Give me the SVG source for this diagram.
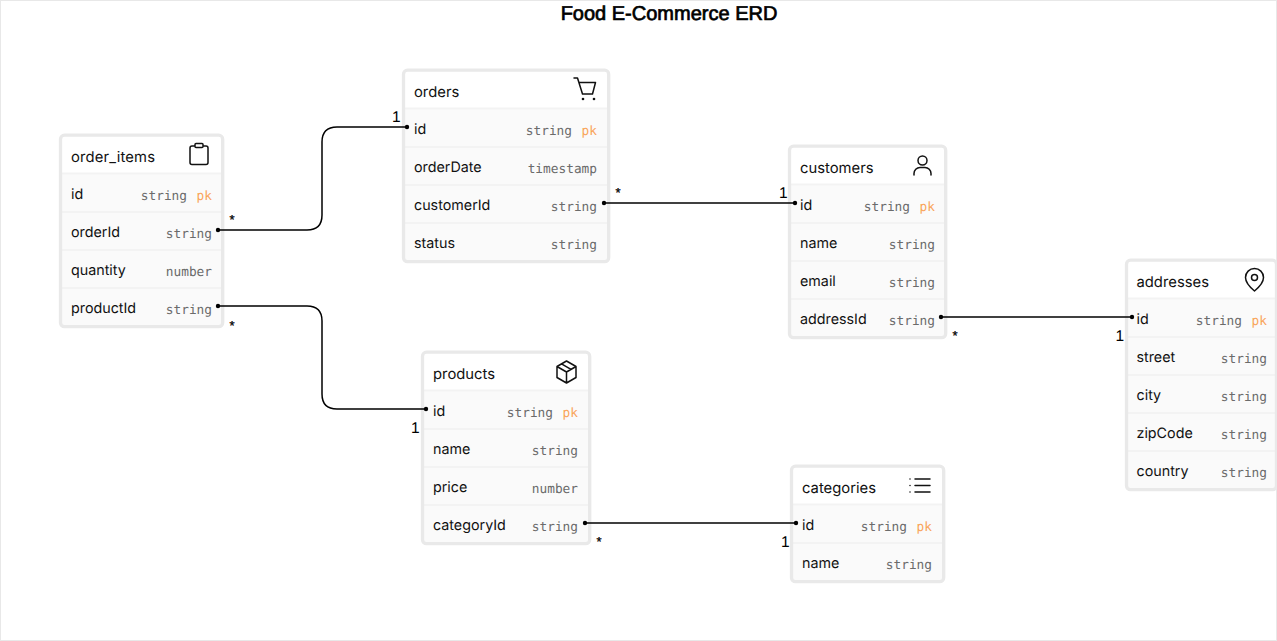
<svg xmlns="http://www.w3.org/2000/svg" width="1277" height="641" viewBox="0 0 1277 641">
<style>
text{text-rendering:geometricPrecision}
.box{fill:#fafafa;stroke:none}
.frame{fill:none;stroke:#e9e9e9;stroke-width:3.300}
.hd{fill:#fff}
.sep{stroke:#f3f3f3;stroke-width:2}
.h{font:14.800px Inter,"Liberation Sans",sans-serif;fill:#111}
.n{font:14.300px Inter,"Liberation Sans",sans-serif;fill:#111;transform:translateY(-1px)}
.t{font:12.800px "DejaVu Sans Mono","Liberation Mono",monospace;fill:#6b6b6b;text-anchor:end}
.pk{font:12.800px "DejaVu Sans Mono","Liberation Mono",monospace;fill:#f9a55a;text-anchor:end}
.ic{fill:none;stroke:#111;stroke-width:1.500;stroke-linecap:round;stroke-linejoin:round}
.c{fill:none;stroke:#000;stroke-width:1.500}
.d{fill:#000}
.l{font:15.500px "Liberation Sans",sans-serif;fill:#000}
.s{font:13px "Liberation Sans",sans-serif;fill:#000;stroke:#000;stroke-width:.3}
</style>
<rect x="0.500" y="0.500" width="1276" height="640" fill="#fff" stroke="#e8e8e8"/>
<text x="669" y="20" text-anchor="middle" style="font:20px 'Liberation Sans',sans-serif;fill:#000;stroke:#000;stroke-width:.7">Food E-Commerce ERD</text>

<g id="order_items">
<rect class="box" x="61" y="136" width="161" height="190" rx="4"/>
<path class="hd" d="M61 174V140a4 4 0 0 1 4-4H218a4 4 0 0 1 4 4V174Z"/>
<path class="sep" d="M61 173.500H222M61 212H222M61 250H222M61 288H222"/>
<rect class="frame" x="60.500" y="135.200" width="162.200" height="191.500" rx="4"/>
<text class="h" x="71" y="162" textLength="84">order_items</text>
<path class="ic" d="M195 146h-3a2 2 0 0 0-2 2v14.500a2 2 0 0 0 2 2h14a2 2 0 0 0 2-2V148a2 2 0 0 0-2-2h-3M195 144.500a1 1 0 0 1 1-1h6a1 1 0 0 1 1 1v2a1 1 0 0 1-1 1h-6a1 1 0 0 1-1-1z"/>
<text class="n" x="71" y="200">id</text><text class="t" x="187" y="200">string</text><text class="pk" x="212" y="200">pk</text>
<text class="n" x="71" y="238">orderId</text><text class="t" x="212" y="238">string</text>
<text class="n" x="71" y="276">quantity</text><text class="t" x="212" y="276">number</text>
<text class="n" x="71" y="314">productId</text><text class="t" x="212" y="314">string</text>
</g>

<g id="orders">
<rect class="box" x="404" y="71" width="204" height="190" rx="4"/>
<path class="hd" d="M404 109V75a4 4 0 0 1 4-4H604a4 4 0 0 1 4 4V109Z"/>
<path class="sep" d="M404 108.500H608M404 147H608M404 185H608M404 223H608"/>
<rect class="frame" x="403.500" y="70.200" width="205.200" height="191.500" rx="4"/>
<text class="h" x="414" y="97">orders</text>
<path class="ic" d="M574 78h3.500l5 16h10l3-11.500H579"/>
<circle cx="583" cy="99" r="1.300" fill="#111"/><circle cx="594" cy="99" r="1.300" fill="#111"/>
<text class="n" x="414" y="135">id</text><text class="t" x="572" y="135">string</text><text class="pk" x="597" y="135">pk</text>
<text class="n" x="414" y="173">orderDate</text><text class="t" x="597" y="173">timestamp</text>
<text class="n" x="414" y="211">customerId</text><text class="t" x="597" y="211">string</text>
<text class="n" x="414" y="249">status</text><text class="t" x="597" y="249">string</text>
</g>

<g id="customers">
<rect class="box" x="790" y="147" width="155" height="190" rx="4"/>
<path class="hd" d="M790 185V151a4 4 0 0 1 4-4H941a4 4 0 0 1 4 4V185Z"/>
<path class="sep" d="M790 184.500H945M790 223H945M790 261H945M790 299H945"/>
<rect class="frame" x="789.500" y="146.200" width="156.200" height="191.500" rx="4"/>
<text class="h" x="800" y="173">customers</text>
<path class="ic" d="M914 175v-1.500a6 6 0 0 1 6-6h5a6 6 0 0 1 6 6V175"/><circle class="ic" cx="922.500" cy="160.500" r="4.500"/>
<text class="n" x="800" y="211">id</text><text class="t" x="910" y="211">string</text><text class="pk" x="935" y="211">pk</text>
<text class="n" x="800" y="249">name</text><text class="t" x="935" y="249">string</text>
<text class="n" x="800" y="287">email</text><text class="t" x="935" y="287">string</text>
<text class="n" x="800" y="325">addressId</text><text class="t" x="935" y="325">string</text>
</g>

<g id="addresses">
<rect class="box" x="1127" y="261" width="150" height="228" rx="4"/>
<path class="hd" d="M1127 299V265a4 4 0 0 1 4-4H1273a4 4 0 0 1 4 4V299Z"/>
<path class="sep" d="M1127 298.500H1277M1127 337H1277M1127 375H1277M1127 413H1277M1127 451H1277"/>
<rect class="frame" x="1126.500" y="260.200" width="150" height="229.500" rx="4"/>
<text class="h" x="1136.500" y="287">addresses</text>
<path class="ic" d="M1254.500 291c-3-2.500-9-8-9-13.500a9 9 0 0 1 18 0c0 5.500-6 11-9 13.500z"/><circle class="ic" cx="1254.500" cy="277.500" r="3"/>
<text class="n" x="1136.500" y="325">id</text><text class="t" x="1242" y="325">string</text><text class="pk" x="1267" y="325">pk</text>
<text class="n" x="1136.500" y="363">street</text><text class="t" x="1267" y="363">string</text>
<text class="n" x="1136.500" y="401">city</text><text class="t" x="1267" y="401">string</text>
<text class="n" x="1136.500" y="439">zipCode</text><text class="t" x="1267" y="439">string</text>
<text class="n" x="1136.500" y="477">country</text><text class="t" x="1267" y="477">string</text>
</g>

<g id="products">
<rect class="box" x="423" y="353" width="166" height="190" rx="4"/>
<path class="hd" d="M423 391V357a4 4 0 0 1 4-4H585a4 4 0 0 1 4 4V391Z"/>
<path class="sep" d="M423 390.500H589M423 429H589M423 467H589M423 505H589"/>
<rect class="frame" x="422.500" y="352.200" width="167.200" height="191.500" rx="4"/>
<text class="h" x="433" y="379">products</text>
<path class="ic" d="M566.500 361l9.500 5.500v11l-9.500 5.500-9.500-5.500v-11zM557 366.500l9.500 5.500 9.500-5.500M566.500 372v11M561.500 363.800l9.500 5.500"/>
<text class="n" x="433" y="417">id</text><text class="t" x="553" y="417">string</text><text class="pk" x="578" y="417">pk</text>
<text class="n" x="433" y="455">name</text><text class="t" x="578" y="455">string</text>
<text class="n" x="433" y="493">price</text><text class="t" x="578" y="493">number</text>
<text class="n" x="433" y="531">categoryId</text><text class="t" x="578" y="531">string</text>
</g>

<g id="categories">
<rect class="box" x="792" y="467" width="151" height="114" rx="4"/>
<path class="hd" d="M792 505V471a4 4 0 0 1 4-4H939a4 4 0 0 1 4 4V505Z"/>
<path class="sep" d="M792 504.500H943M792 543H943"/>
<rect class="frame" x="791.500" y="466.200" width="152.200" height="115.500" rx="4"/>
<text class="h" x="802" y="493">categories</text>
<path class="ic" d="M915 479h15M915 485.500h15M915 492h15M910 479h.01M910 485.500h.01M910 492h.01"/>
<text class="n" x="802" y="531">id</text><text class="t" x="907" y="531">string</text><text class="pk" x="932" y="531">pk</text>
<text class="n" x="802" y="569">name</text><text class="t" x="932" y="569">string</text>
</g>

<g id="connectors">
<path class="c" d="M218 230H307Q322 230 322 215V142Q322 127 337 127H407"/>
<path class="c" d="M218 306H307Q322 306 322 321V394Q322 409 337 409H426"/>
<path class="c" d="M604 203H795"/>
<path class="c" d="M941 317H1132"/>
<path class="c" d="M585 523H796"/>
<g class="d"><circle cx="218" cy="230" r="2.200"/><circle cx="407" cy="127" r="2.200"/><circle cx="218" cy="306" r="2.200"/><circle cx="426" cy="409" r="2.200"/><circle cx="604" cy="203" r="2.200"/><circle cx="795" cy="203" r="2.200"/><circle cx="941" cy="317" r="2.200"/><circle cx="1132" cy="317" r="2.200"/><circle cx="585" cy="523" r="2.200"/><circle cx="796" cy="523" r="2.200"/></g>
<g class="s"><text x="229.500" y="224">*</text><text x="229.500" y="330">*</text><text x="615.500" y="197">*</text><text x="952.500" y="340">*</text><text x="596.500" y="546">*</text></g>
<g class="l"><text x="392" y="122">1</text><text x="411" y="433">1</text><text x="779" y="198">1</text><text x="1115.500" y="341">1</text><text x="781" y="547">1</text></g>
</g>
</svg>
